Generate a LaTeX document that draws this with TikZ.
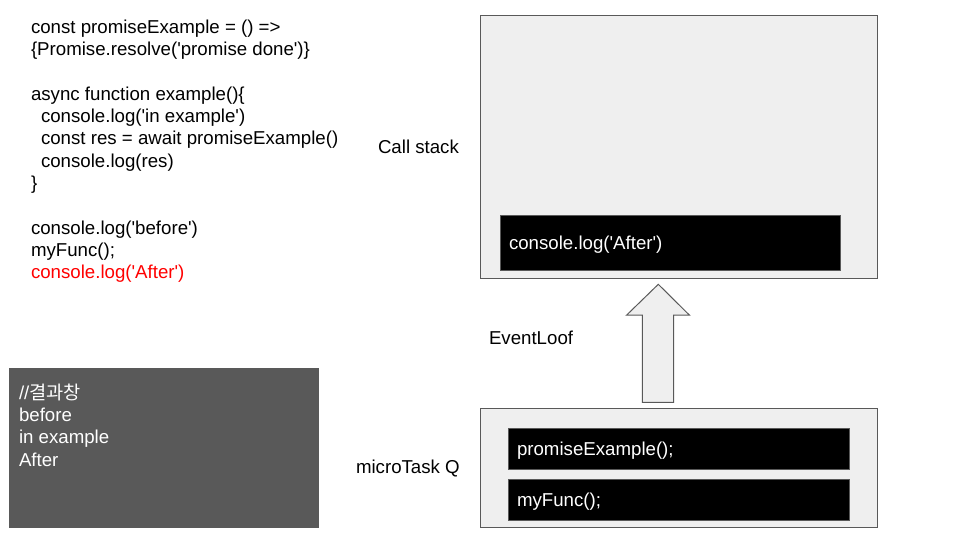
\documentclass[tikz,border=0pt]{standalone}
\usepackage{fontspec}
\setmainfont{Liberation Sans}[Ligatures=TeXOff]
\newfontfamily\cjk{Noto Sans CJK KR}
\definecolor{panel}{HTML}{EFEFEF}
\definecolor{edge}{HTML}{595959}
\definecolor{codered}{HTML}{FF0000}
\begin{document}
\begin{tikzpicture}[x=1pt,y=-1pt,
  every node/.style={inner sep=0pt,outer sep=0pt},
  txt/.style={anchor=base west,font=\fontsize{18.67}{22.3}\selectfont,text=black},
  wtxt/.style={txt,text=white},
  panelbox/.style={draw=edge,fill=panel,line width=1pt,anchor=north west},
  blackbox/.style={draw=edge,fill=black,line width=1pt,anchor=north west},
  consolebox/.style={fill=edge,anchor=north west}]
\useasboundingbox (0,0) rectangle (960,540);
% code listing
\node[txt] (c1) at (31,33.3) {const promiseExample = () =>};
\node[txt] (c2) at (31,55.6) {\{Promise.resolve('promise done')\}};
\node[txt] (c3) at (31,100.2) {async function example()\{};
\node[txt] (c4) at (41,122.5) {console.log('in example')};
\node[txt] (c5) at (41,144.8) {const res = await promiseExample()};
\node[txt] (c6) at (41,167.1) {console.log(res)};
\node[txt] (c7) at (31,189.4) {\}};
\node[txt] (c8) at (31,234) {console.log('before')};
\node[txt] (c9) at (31,256.3) {myFunc();};
\node[txt,text=codered] (c10) at (31,278.6) {console.log('After')};
% console output
\node[consolebox,minimum width=310,minimum height=160] (console) at (9,367.5) {};
\node[wtxt] (o1) at (19,399.3) {//{\cjk 결과창}};
\node[wtxt] (o2) at (19,421.6) {before};
\node[wtxt] (o3) at (19,443.9) {in example};
\node[wtxt] (o4) at (19,466.2) {After};
% call stack
\node[panelbox,minimum width=397,minimum height=263] (stack) at (480.5,15.5) {};
\node[blackbox,minimum width=340,minimum height=55] (after) at (500.5,215.5) {};
\node[wtxt] (aftert) at (509,249.5) {console.log('After')};
\node[txt] (stacklbl) at (378,153.5) {Call stack};
% microtask queue
\node[panelbox,minimum width=397,minimum height=119] (mq) at (480.5,408.5) {};
\node[blackbox,minimum width=341,minimum height=41] (pe) at (508.5,428) {};
\node[wtxt] (pet) at (517,455) {promiseExample();};
\node[blackbox,minimum width=341,minimum height=41] (mf) at (508.5,479.5) {};
\node[wtxt] (mft) at (517,506.5) {myFunc();};
\node[txt] (mqlbl) at (356,473.5) {microTask Q};
% event loop arrow
\draw[draw=edge,fill=panel,line width=1pt,line join=miter]
  (642.3,402.3) -- (642.3,315) -- (626.7,315) -- (658.3,284.3) -- (689.3,315)
  -- (673.7,315) -- (673.7,402.3) -- cycle;
\node[txt] (ellbl) at (489,344.3) {EventLoof};
\end{tikzpicture}
\end{document}
